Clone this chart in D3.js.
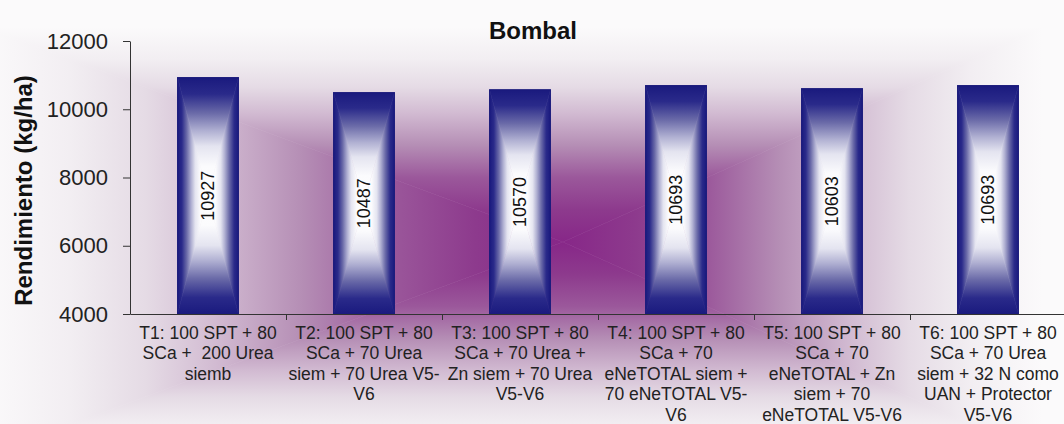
<!DOCTYPE html>
<html>
<head>
<meta charset="utf-8">
<script src="https://cdn.jsdelivr.net/npm/d3@7"></script>
<style>
  html, body { margin: 0; padding: 0; background: #fbfafb; }
  svg { display: block; }
  text { font-family: "Liberation Sans", Arial, sans-serif; }
</style>
</head>
<body>
<svg id="chart" width="1064" height="424"></svg>
<script>
// ---- data ----
const categories = ["T1", "T2", "T3", "T4", "T5", "T6"];
const yieldValues = [10927, 10487, 10570, 10693, 10603, 10693];
const categoryLabels = [
  ["T1: 100 SPT + 80", "SCa +  200 Urea", "siemb"],
  ["T2: 100 SPT + 80", "SCa + 70 Urea", "siem + 70 Urea V5-", "V6"],
  ["T3: 100 SPT + 80", "SCa + 70 Urea +", "Zn siem + 70 Urea", "V5-V6"],
  ["T4: 100 SPT + 80", "SCa + 70", "eNeTOTAL siem +", "70 eNeTOTAL V5-", "V6"],
  ["T5: 100 SPT + 80", "SCa + 70", "eNeTOTAL + Zn", "siem + 70", "eNeTOTAL V5-V6"],
  ["T6: 100 SPT + 80", "SCa + 70 Urea", "siem + 32 N como", "UAN + Protector", "V5-V6"]
];
const yTicks = [4000, 6000, 8000, 10000, 12000];
const chartTitle = "Bombal";
const yTitle = "Rendimiento (kg/ha)";

// ---- layout ----
const W = 1064, H = 424;
const plot = { left: 130, right: 1066, top: 41, bottom: 314 };

const svg = d3.select("#chart");
const defs = svg.append("defs");

// colour ramps for "from centre" rectangular fills; d = 0 at centre, 1 at edge
const bgRamp = [
  [0.00, "#872788"], [0.15, "#8d3a8d"], [0.30, "#9b589b"], [0.45, "#b58eb5"],
  [0.60, "#d2bbd2"], [0.72, "#e5dbe5"], [0.85, "#f2eef2"], [1.00, "#fbfafb"]
];
const barRamp = [
  [0.00, "#ffffff"], [0.25, "#fbfbfd"], [0.42, "#e4e4f0"], [0.55, "#b0b0d2"],
  [0.70, "#6a6aa8"], [0.86, "#2a2a8a"], [1.00, "#1a1a7e"]
];

// four shared bounding-box gradients (edge -> centre) per ramp
function makeRampGradients(name, ramp) {
  const dirs = {
    top:    { x1: 0, y1: 0, x2: 0, y2: 1 },
    bottom: { x1: 0, y1: 1, x2: 0, y2: 0 },
    left:   { x1: 0, y1: 0, x2: 1, y2: 0 },
    right:  { x1: 1, y1: 0, x2: 0, y2: 0 }
  };
  Object.entries(dirs).forEach(([k, v]) => {
    const g = defs.append("linearGradient")
      .attr("id", `${name}-${k}`)
      .attr("gradientUnits", "objectBoundingBox")
      .attr("x1", v.x1).attr("y1", v.y1).attr("x2", v.x2).attr("y2", v.y2);
    ramp.slice().reverse().forEach(([d, c]) => {
      g.append("stop").attr("offset", 1 - d).attr("stop-color", c);
    });
  });
}
makeRampGradients("bg", bgRamp);
makeRampGradients("bar", barRamp);

// fill a rectangle with a rectangular path gradient built from four triangles
function rectGradient(g, x0, y0, x1, y1, name, cx, cy) {
  cx = cx ?? (x0 + x1) / 2;
  cy = cy ?? (y0 + y1) / 2;
  const tris = [
    ["top",    [[x0, y0], [x1, y0], [cx, cy]]],
    ["bottom", [[x0, y1], [x1, y1], [cx, cy]]],
    ["left",   [[x0, y0], [x0, y1], [cx, cy]]],
    ["right",  [[x1, y0], [x1, y1], [cx, cy]]]
  ];
  tris.forEach(([k, pts]) => {
    g.append("path")
      .attr("d", d3.line()(pts) + "Z")
      .attr("fill", `url(#${name}-${k})`)
      .attr("stroke", `url(#${name}-${k})`)
      .attr("stroke-width", 0.6)
      .attr("stroke-linejoin", "round");
  });
}

// ---- background ----
svg.append("rect").attr("width", W).attr("height", H).attr("fill", "#fbfafb");
const bgCenter = { x: 563, y: 242 };
const bgExtent = { left: 580, right: 480, top: 215, bottom: 215 };
rectGradient(svg.append("g"),
  bgCenter.x - bgExtent.left, bgCenter.y - bgExtent.top,
  bgCenter.x + bgExtent.right, bgCenter.y + bgExtent.bottom, "bg",
  bgCenter.x, bgCenter.y);

// ---- scales ----
const x = d3.scaleBand().domain(categories)
  .range([plot.left, plot.right]).paddingInner(0.61).paddingOuter(0.305);
const y = d3.scaleLinear().domain([4000, 12000]).range([plot.bottom, plot.top]);
const xEdge = d3.scaleLinear().domain([0, categories.length]).range([plot.left, plot.right]);

// ---- bars ----
const barsG = svg.append("g");
categories.forEach((c, i) => {
  const bx0 = x(c), bx1 = x(c) + x.bandwidth();
  const by0 = y(yieldValues[i]), by1 = y(4000);
  const g = barsG.append("g");
  rectGradient(g, bx0, by0, bx1, by1, "bar");
  g.append("rect")
    .attr("x", bx0).attr("y", by0)
    .attr("width", bx1 - bx0).attr("height", by1 - by0)
    .attr("fill", "none").attr("stroke", "#1c1c7c").attr("stroke-width", 1);
  // value label, rotated, centred in the bar
  const lx = (bx0 + bx1) / 2, ly = (by0 + by1) / 2;
  g.append("text")
    .attr("transform", `translate(${lx},${ly}) rotate(-90)`)
    .attr("text-anchor", "middle")
    .attr("dominant-baseline", "central")
    .attr("font-size", 18)
    .attr("fill", "#111")
    .text(yieldValues[i]);
});

// ---- axes ----
const yAxis = svg.append("g")
  .attr("transform", `translate(${plot.left},0)`)
  .call(d3.axisLeft(y).tickValues(yTicks).tickFormat(d3.format("d"))
    .tickSize(7).tickSizeOuter(0).tickPadding(15));
yAxis.select(".domain").attr("stroke", "#333");
yAxis.selectAll(".tick line").attr("stroke", "#333");
yAxis.selectAll(".tick text")
  .attr("font-family", "'Liberation Serif', 'DejaVu Serif', serif")
  .attr("font-size", 22).attr("fill", "#222");

const xAxis = svg.append("g")
  .attr("transform", `translate(0,${plot.bottom})`)
  .call(d3.axisBottom(xEdge).tickValues(d3.range(1, categories.length + 1))
    .tickFormat("").tickSize(6).tickSizeOuter(0));
xAxis.select(".domain").attr("stroke", "#333");
xAxis.selectAll(".tick line").attr("stroke", "#333");

// category labels, wrapped
const labelG = svg.append("g");
categories.forEach((c, i) => {
  const t = labelG.append("text")
    .attr("x", x(c) + x.bandwidth() / 2)
    .attr("y", 339)
    .attr("text-anchor", "middle")
    .attr("font-size", 17.5)
    .attr("fill", "#222")
    .style("white-space", "pre");
  categoryLabels[i].forEach((line, j) => {
    t.append("tspan")
      .attr("x", x(c) + x.bandwidth() / 2)
      .attr("dy", j === 0 ? 0 : 20.4)
      .text(line);
  });
});

// ---- titles ----
svg.append("text")
  .attr("x", 533).attr("y", 39)
  .attr("text-anchor", "middle")
  .attr("font-size", 24).attr("font-weight", "bold").attr("fill", "#111")
  .text(chartTitle);

svg.append("text")
  .attr("transform", `translate(23,${(plot.top + plot.bottom) / 2 + 13}) rotate(-90)`)
  .attr("text-anchor", "middle")
  .attr("dominant-baseline", "central")
  .attr("font-size", 24).attr("font-weight", "bold").attr("fill", "#111")
  .text(yTitle);
</script>
</body>
</html>
